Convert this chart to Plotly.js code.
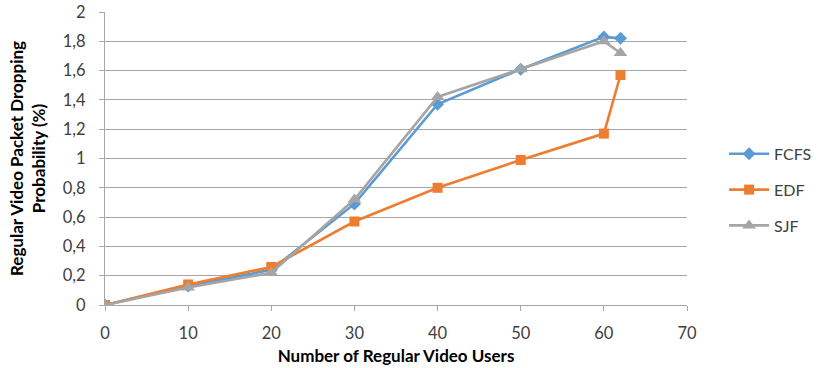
<!DOCTYPE html>
<html>
<head>
<meta charset="utf-8">
<script src="https://cdn.plot.ly/plotly-3.0.1.min.js"></script>
<style>html,body{margin:0;padding:0;background:#fff;}#chart{width:821px;height:368px;}</style>
</head>
<body>
<div id="chart"></div>
<script>
const users = [0, 10, 20, 30, 40, 50, 60, 62];
const fcfs = [0, 0.13, 0.24, 0.69, 1.37, 1.61, 1.83, 1.82];
const edf = [0, 0.14, 0.26, 0.57, 0.80, 0.99, 1.17, 1.57];
const sjf = [0, 0.12, 0.22, 0.72, 1.42, 1.61, 1.80, 1.72];
const yTickVals = [0, 0.2, 0.4, 0.6, 0.8, 1, 1.2, 1.4, 1.6, 1.8, 2];
const yTickText = ["0", "0,2", "0,4", "0,6", "0,8", "1", "1,2", "1,4", "1,6", "1,8", "2"];
const xTickVals = [0, 10, 20, 30, 40, 50, 60, 70];

const font = "Lato, Open Sans, sans-serif";
function tr(name, y, color, symbol, size, grp) {
  return {x: users, y: y, name: name, type: 'scatter', mode: 'lines+markers',
    legendgroup: grp,
    line: {color: color, width: 2.6},
    marker: {color: color, symbol: symbol, size: size}};
}
const data = [
  tr('FCFS', fcfs, '#5B9BD5', 'diamond', 10, 'a'),
  tr('EDF', edf, '#ED7D31', 'square', 10, 'b'),
  tr('SJF', sjf, '#A5A5A5', 'triangle-up', 12, 'c')
];
const layout = {
  width: 821, height: 368,
  margin: {l: 105, r: 134, t: 12, b: 63},
  paper_bgcolor: '#fff', plot_bgcolor: '#fff',
  font: {family: font, size: 16, color: '#404040'},
  showlegend: true,
  legend: {xref: 'container', yref: 'container', x: 0.882, xanchor: 'left', y: 0.484, yanchor: 'middle',
    traceorder: 'grouped', tracegroupgap: 12,
    font: {family: font, size: 16, color: '#404040'}, itemwidth: 40},
  xaxis: {range: [0, 70], tickvals: xTickVals, showgrid: false, zeroline: false,
    showline: true, linecolor: '#a6a6a6', linewidth: 1,
    ticks: 'outside', ticklen: 5, tickcolor: '#a6a6a6', ticklabelstandoff: 8,
    tickfont: {family: font, size: 16.5, color: '#404040'},
    title: {text: '<b>Number of Regular Video Users</b>', standoff: 8,
      font: {family: font, size: 17, color: '#000'}}},
  yaxis: {range: [0, 2], tickvals: yTickVals, ticktext: yTickText,
    showgrid: true, gridcolor: '#a6a6a6', gridwidth: 1, zeroline: false,
    showline: true, linecolor: '#a6a6a6', linewidth: 1,
    ticks: 'outside', ticklen: 5, tickcolor: '#a6a6a6', ticklabelstandoff: 10,
    tickfont: {family: font, size: 16.5, color: '#404040'},
    title: {text: '<b>Regular Video Packet Dropping<br>Probability (%)</b>', standoff: 12,
      font: {family: font, size: 17, color: '#000'}}}
};
Plotly.newPlot('chart', data, layout, {displayModeBar: false, staticPlot: true});
</script>
</body>
</html>
